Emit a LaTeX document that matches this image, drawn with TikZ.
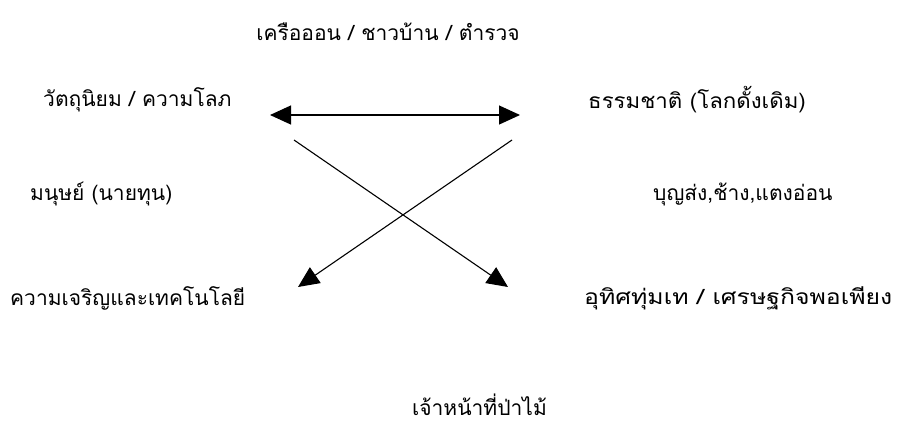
\documentclass[tikz,border=0pt]{standalone}
\usepackage{fontspec}
\newfontfamily\thaifont[Script=Thai]{Loma}
\usetikzlibrary{arrows.meta}
\begin{document}
\begin{tikzpicture}[x=1pt,y=-1pt,
  lbl/.style={font=\thaifont\fontsize{21}{24}\selectfont, inner sep=0pt},
  big/.style={-{Triangle[length=21pt,width=19pt]}, line width=1.1pt},
  both/.style={{Triangle[length=21pt,width=19pt]}-{Triangle[length=21pt,width=19pt]}, line width=1.1pt}]
\useasboundingbox (0,0) rectangle (899,429);
\fill[white] (0,0) rectangle (899,429);
\node[lbl] (top) at (388,32) {เครือออน / ชาวบ้าน / ตำรวจ};
\node[lbl, anchor=west] (l1) at (43,100) {วัตถุนิยม / ความโลภ};
\node[lbl, anchor=west] (r1) at (588,100) {\scalebox{1.06}[1]{ธรรมชาติ (โลกดั้งเดิม)}};
\node[lbl, anchor=west] (l2) at (30,194) {มนุษย์ (นายทุน)};
\node[lbl, anchor=west] (r2) at (653,194) {บุญส่ง,ช้าง,แตงอ่อน};
\node[lbl, anchor=west] (l3) at (10,298) {ความเจริญและเทคโนโลยี};
\node[lbl, anchor=west] (r3) at (584,298) {\scalebox{1.18}[1]{อุทิศทุ่มเท / เศรษฐกิจพอเพียง}};
\node[lbl, anchor=west] (b) at (412,405) {เจ้าหน้าที่ป่าไม้};
\coordinate (hl) at (270,115);
\coordinate (hr) at (520,115);
\coordinate (a1s) at (294,140);
\coordinate (a1e) at (508,287);
\coordinate (a2s) at (512,140);
\coordinate (a2e) at (298,287);
\draw[both] (hl) -- (hr);
\draw[big] (a1s) -- (a1e);
\draw[big] (a2s) -- (a2e);
\end{tikzpicture}
\end{document}
